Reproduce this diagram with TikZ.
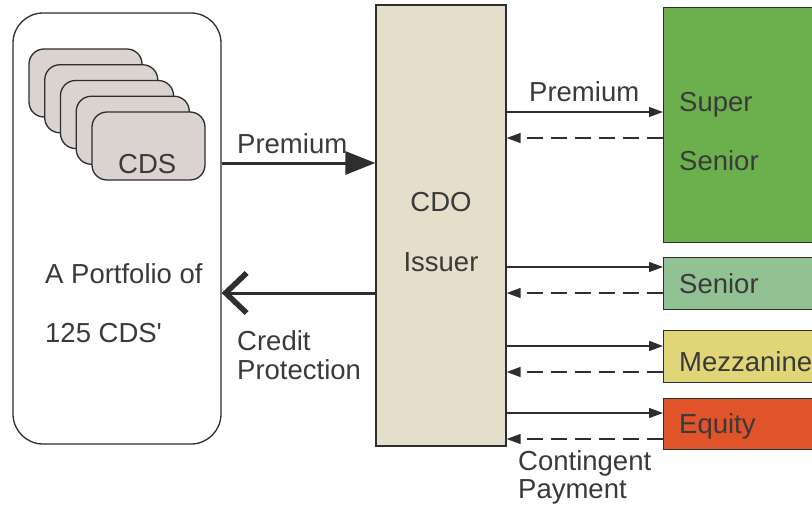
\documentclass[tikz,border=0pt]{standalone}
\usepackage{fontspec}
\setmainfont{Liberation Sans}
\usetikzlibrary{arrows.meta}
\definecolor{ink}{HTML}{2E2E2E}
\definecolor{txt}{HTML}{3A3A3A}
\definecolor{cardfill}{HTML}{DAD3CF}
\definecolor{issuerfill}{HTML}{E5DECB}
\definecolor{supfill}{HTML}{6BB04D}
\definecolor{senfill}{HTML}{92C193}
\definecolor{mezfill}{HTML}{E1D677}
\definecolor{eqfill}{HTML}{E1532A}
\tikzset{
  lbl/.style={anchor=base west, inner sep=0pt, text=txt, font=\fontsize{27.5}{32}\selectfont},
  clbl/.style={anchor=base, inner sep=0pt, text=txt, font=\fontsize{27.5}{32}\selectfont},
  card/.style={draw=ink, line width=1.3pt, fill=cardfill, rounded corners=15pt, minimum width=113pt, minimum height=68pt, inner sep=0pt},
  tranche/.style={draw=ink, line width=1.3pt, anchor=north west, minimum width=160pt, inner sep=0pt},
  pay/.style={draw=ink, line width=1.4pt, -{Triangle[length=14pt,width=10pt]}},
  back/.style={draw=ink, line width=1.4pt, dash pattern=on 16pt off 8pt, -{Triangle[length=14pt,width=10pt]}},
}
\begin{document}
\begin{tikzpicture}[x=1pt,y=-1pt]
\useasboundingbox[fill=white] (0,0) rectangle (812,504);
% portfolio
\node[draw=ink, line width=1.3pt, rounded corners=30pt, minimum width=208pt, minimum height=431pt, inner sep=0pt] (portfolio) at (117,228.5) {};
\foreach \i in {0,...,4}{
  \node[card] (cds\i) at ({85.5+15.75*\i},{83+15.75*\i}) {};
}
\node[lbl] (cdstext) at (118,173) {CDS};
\node[lbl] (port1) at (45,283) {A Portfolio of};
\node[lbl] (port2) at (45,342) {125 CDS\textquotesingle};
% issuer
\node[draw=ink, line width=1.3pt, fill=issuerfill, minimum width=130pt, minimum height=441pt, inner sep=0pt] (issuer) at (441,225.5) {};
\node[clbl] (cdo) at (441,211) {CDO};
\node[clbl] (iss) at (441,271) {Issuer};
% big arrows
\coordinate (premy) at (0,163);
\draw[draw=ink, line width=3pt, -{Triangle[length=30pt,width=23pt]}] (portfolio.east |- premy) -- (issuer.west |- premy);
\node[lbl] (premL) at (237,153) {Premium};
\coordinate (credy) at (0,293);
\draw[draw=ink, line width=3pt, -{Straight Barb[length=21pt,width=40pt,line width=5.5pt]}] (issuer.west |- credy) -- (portfolio.east |- credy);
\node[lbl] (cred1) at (237,350) {Credit};
\node[lbl] (cred2) at (237,379) {Protection};
% tranches
\node[tranche, fill=supfill, minimum height=235pt] (sup) at (663,7) {};
\node[tranche, fill=senfill, minimum height=52pt] (sen) at (663,257) {};
\node[tranche, fill=mezfill, minimum height=52pt] (mez) at (663,330) {};
\node[tranche, fill=eqfill, minimum height=51pt] (eq) at (663,398) {};
\node[lbl] (sup1) at (679,111) {Super};
\node[lbl] (sup2) at (679,170) {Senior};
\node[lbl] (sent) at (679,293) {Senior};
\node[lbl] (mezt) at (679,371) {Mezzanine};
\node[lbl] (eqt) at (679,433) {Equity};
\node[lbl] (premR) at (529,101) {Premium};
\node[lbl] (cont1) at (518,470) {Contingent};
\node[lbl] (cont2) at (518,498) {Payment};
% tranche arrows
\foreach \t/\a/\b in {sup/112/138, sen/267/293, mez/346/372, eq/413/439}{
  \coordinate (a\t) at (0,\a);
  \coordinate (b\t) at (0,\b);
  \draw[pay] (issuer.east |- a\t) -- (\t.west |- a\t);
  \draw[back] (\t.west |- b\t) -- (issuer.east |- b\t);
}
\end{tikzpicture}
\end{document}
